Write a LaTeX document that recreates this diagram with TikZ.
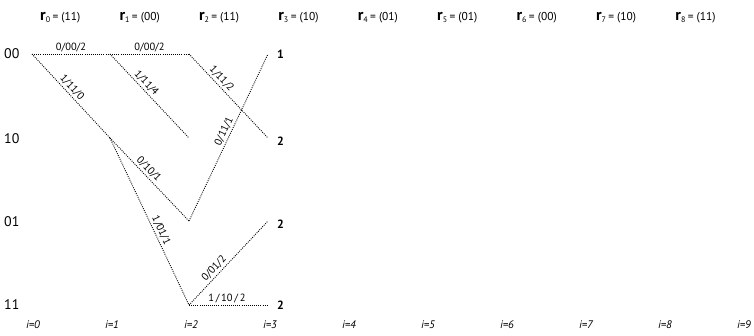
\documentclass[tikz,border=0pt]{standalone}
\usepackage{fontspec}
\setmainfont{PT Sans}
\usetikzlibrary{positioning}

\begin{document}
\begin{tikzpicture}[
  x=1bp, y=-1bp,
  row/.style={anchor=west, inner sep=0pt, font=\fontsize{14}{15}\selectfont},
  rlbl/.style={anchor=west, inner sep=0pt, font=\fontsize{11.5}{13}\selectfont},
  ilbl/.style={inner sep=0pt, font=\fontsize{11}{12}\selectfont\itshape},
  fin/.style={anchor=west, inner sep=0pt, font=\fontsize{12}{13}\selectfont\bfseries},
  br/.style={line width=0.9bp, dash pattern=on 0.9bp off 1.2bp},
  ml/.style={above, sloped, inner sep=1.8pt, font=\fontsize{10.5}{11}\selectfont}]

\useasboundingbox (0,0) rectangle (754,335);

% received pairs
\foreach \k/\v in {0/11,1/00,2/11,3/10,4/01,5/01,6/00,7/10,8/11}
  \node[rlbl] (r\k) at ({40+79.4*\k},18)
    {{\fontsize{16}{16}\selectfont\bfseries r}\textsubscript{\k}\,= (\v)};

% states
\node[row] (l00) at (4,54) {00};
\node[row] (l10) at (4,139) {10};
\node[row] (l01) at (4,222) {01};
\node[row] (l11) at (4,305) {11};

% time steps
\foreach \k in {0,...,9}
  \node[ilbl] (i\k) at ({33+79*\k},325) {i=\k};

% trellis points
\coordinate (s00-0) at (32,54);
\coordinate (s00-1) at (110,54);
\coordinate (s00-2) at (189,54);
\coordinate (s00-3) at (268,54);
\coordinate (s10-1) at (110,138);
\coordinate (s10-2) at (189,138);
\coordinate (s10-3) at (268,138);
\coordinate (s01-2) at (189,221);
\coordinate (s01-3) at (268,221);
\coordinate (s11-2) at (189,305);
\coordinate (s11-3) at (268,305);

% branches
\draw[br] (s00-0) -- node[ml]{0/00/2} (s00-1);
\draw[br] (s00-1) -- node[ml]{0/00/2} (s00-2);
\draw[br] (s00-0) -- node[ml, pos=.45]{1/11/0} (s10-1);
\draw[br] (s00-1) -- node[ml, pos=.4]{1/11/4} (s10-2);
\draw[br] (s00-2) -- node[ml, pos=.35]{1/11/2} (s10-3);
\draw[br] (s10-1) -- node[ml, pos=.43]{0/10/1} (s01-2);
\draw[br] (s10-1) -- node[ml, pos=.57]{1/01/1} (s11-2);
\draw[br] (s01-2) -- node[ml, pos=.52]{0/11/1} (s00-3);
\draw[br] (s11-2) -- node[ml, pos=.38]{0/01/2} (s01-3);
\draw[br] (s11-2) -- node[ml, pos=.48]{1\,/\,10\,/\,2} (s11-3);

% path metrics
\node[fin, right=9bp of s00-3] (m00) {1};
\node[fin, right=9bp of s10-3, yshift=-3bp] (m10) {2};
\node[fin, right=9bp of s01-3, yshift=-3bp] (m01) {2};
\node[fin, right=9bp of s11-3] (m11) {2};
\end{tikzpicture}
\end{document}
